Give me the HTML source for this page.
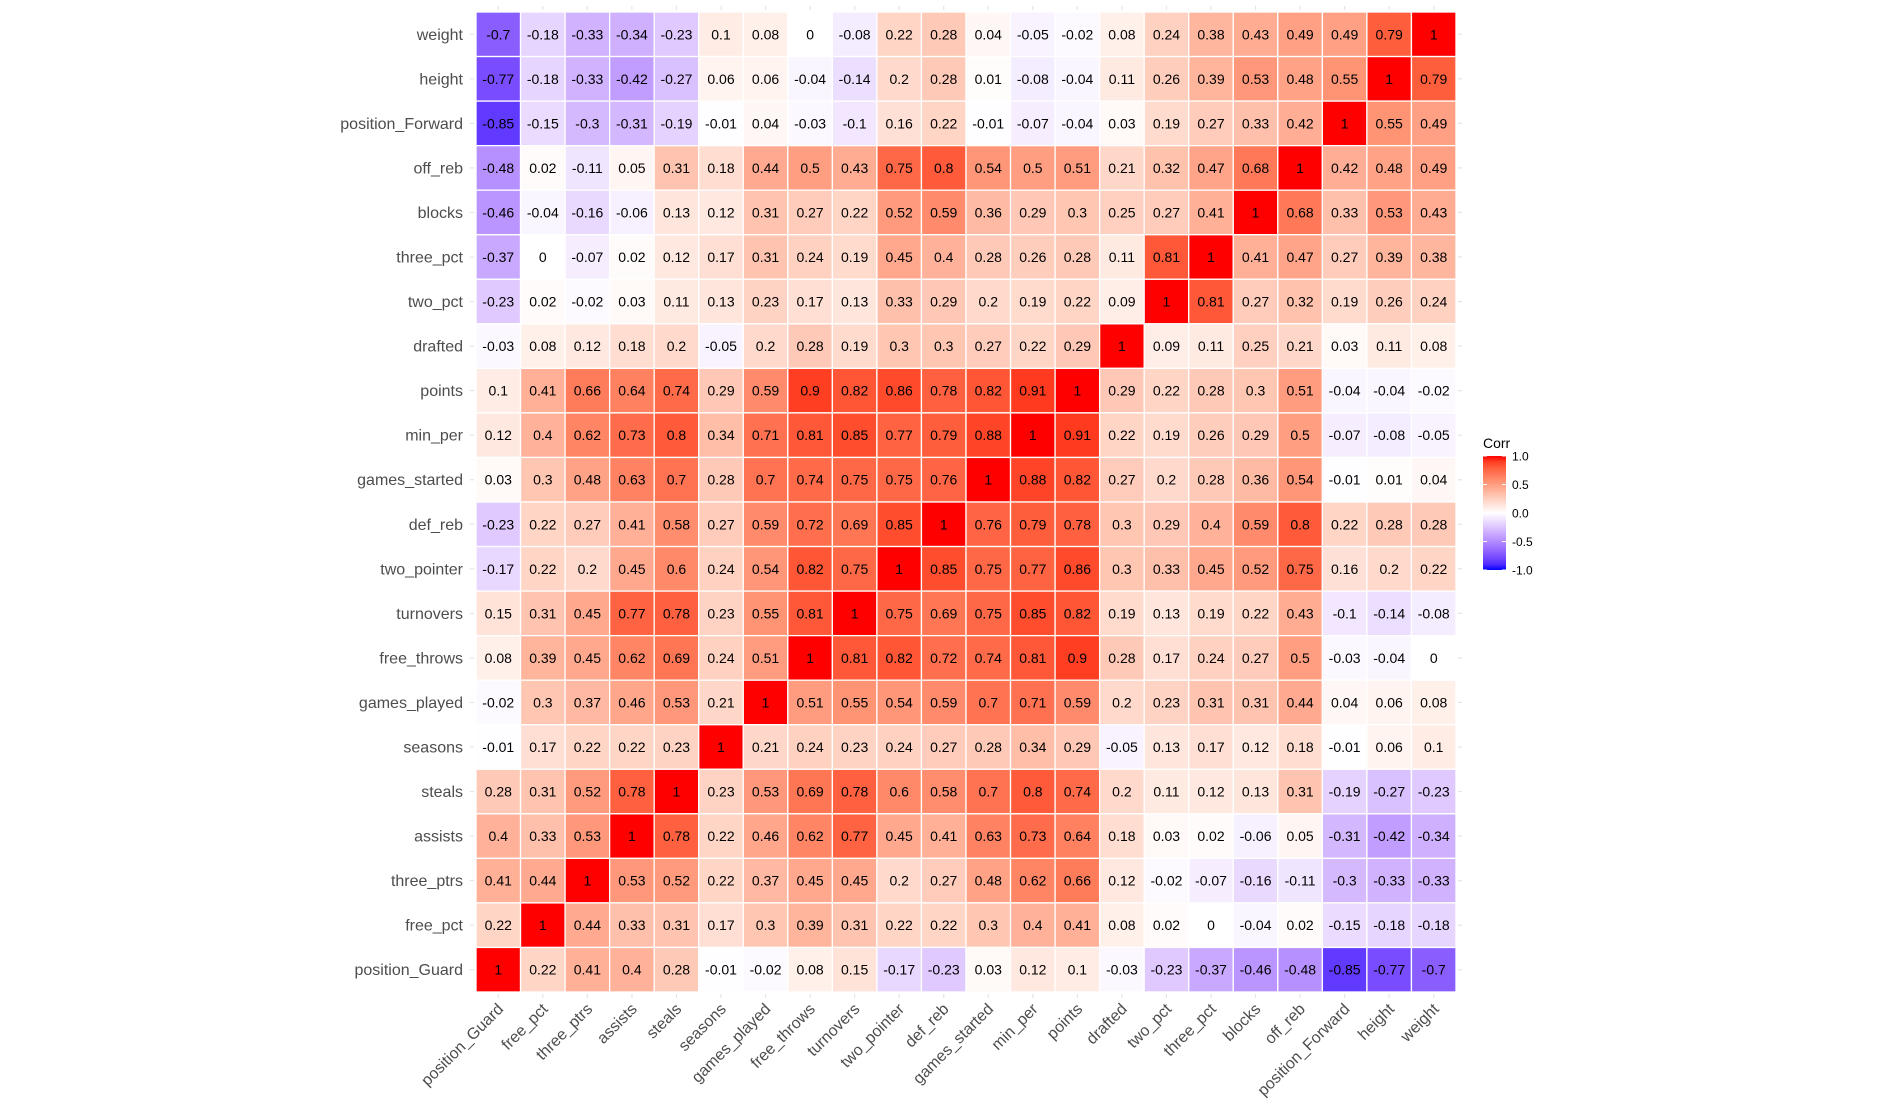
<!DOCTYPE html>
<html><head><meta charset="utf-8"><style>
html,body{margin:0;padding:0;background:#fff;}
svg{display:block;font-family:"Liberation Sans",Arial,sans-serif;}
</style></head><body>
<svg id="chart" width="1884" height="1108" viewBox="0 0 1884 1108"></svg>
<script>
const columns = ["position_Guard","free_pct","three_ptrs","assists","steals","seasons","games_played","free_throws","turnovers","two_pointer","def_reb","games_started","min_per","points","drafted","two_pct","three_pct","blocks","off_reb","position_Forward","height","weight"];
const rowsTopDown = ["weight","height","position_Forward","off_reb","blocks","three_pct","two_pct","drafted","points","min_per","games_started","def_reb","two_pointer","turnovers","free_throws","games_played","seasons","steals","assists","three_ptrs","free_pct","position_Guard"];
const values = [
[-0.7,-0.18,-0.33,-0.34,-0.23,0.1,0.08,0,-0.08,0.22,0.28,0.04,-0.05,-0.02,0.08,0.24,0.38,0.43,0.49,0.49,0.79,1],
[-0.77,-0.18,-0.33,-0.42,-0.27,0.06,0.06,-0.04,-0.14,0.2,0.28,0.01,-0.08,-0.04,0.11,0.26,0.39,0.53,0.48,0.55,1,0.79],
[-0.85,-0.15,-0.3,-0.31,-0.19,-0.01,0.04,-0.03,-0.1,0.16,0.22,-0.01,-0.07,-0.04,0.03,0.19,0.27,0.33,0.42,1,0.55,0.49],
[-0.48,0.02,-0.11,0.05,0.31,0.18,0.44,0.5,0.43,0.75,0.8,0.54,0.5,0.51,0.21,0.32,0.47,0.68,1,0.42,0.48,0.49],
[-0.46,-0.04,-0.16,-0.06,0.13,0.12,0.31,0.27,0.22,0.52,0.59,0.36,0.29,0.3,0.25,0.27,0.41,1,0.68,0.33,0.53,0.43],
[-0.37,0,-0.07,0.02,0.12,0.17,0.31,0.24,0.19,0.45,0.4,0.28,0.26,0.28,0.11,0.81,1,0.41,0.47,0.27,0.39,0.38],
[-0.23,0.02,-0.02,0.03,0.11,0.13,0.23,0.17,0.13,0.33,0.29,0.2,0.19,0.22,0.09,1,0.81,0.27,0.32,0.19,0.26,0.24],
[-0.03,0.08,0.12,0.18,0.2,-0.05,0.2,0.28,0.19,0.3,0.3,0.27,0.22,0.29,1,0.09,0.11,0.25,0.21,0.03,0.11,0.08],
[0.1,0.41,0.66,0.64,0.74,0.29,0.59,0.9,0.82,0.86,0.78,0.82,0.91,1,0.29,0.22,0.28,0.3,0.51,-0.04,-0.04,-0.02],
[0.12,0.4,0.62,0.73,0.8,0.34,0.71,0.81,0.85,0.77,0.79,0.88,1,0.91,0.22,0.19,0.26,0.29,0.5,-0.07,-0.08,-0.05],
[0.03,0.3,0.48,0.63,0.7,0.28,0.7,0.74,0.75,0.75,0.76,1,0.88,0.82,0.27,0.2,0.28,0.36,0.54,-0.01,0.01,0.04],
[-0.23,0.22,0.27,0.41,0.58,0.27,0.59,0.72,0.69,0.85,1,0.76,0.79,0.78,0.3,0.29,0.4,0.59,0.8,0.22,0.28,0.28],
[-0.17,0.22,0.2,0.45,0.6,0.24,0.54,0.82,0.75,1,0.85,0.75,0.77,0.86,0.3,0.33,0.45,0.52,0.75,0.16,0.2,0.22],
[0.15,0.31,0.45,0.77,0.78,0.23,0.55,0.81,1,0.75,0.69,0.75,0.85,0.82,0.19,0.13,0.19,0.22,0.43,-0.1,-0.14,-0.08],
[0.08,0.39,0.45,0.62,0.69,0.24,0.51,1,0.81,0.82,0.72,0.74,0.81,0.9,0.28,0.17,0.24,0.27,0.5,-0.03,-0.04,0],
[-0.02,0.3,0.37,0.46,0.53,0.21,1,0.51,0.55,0.54,0.59,0.7,0.71,0.59,0.2,0.23,0.31,0.31,0.44,0.04,0.06,0.08],
[-0.01,0.17,0.22,0.22,0.23,1,0.21,0.24,0.23,0.24,0.27,0.28,0.34,0.29,-0.05,0.13,0.17,0.12,0.18,-0.01,0.06,0.1],
[0.28,0.31,0.52,0.78,1,0.23,0.53,0.69,0.78,0.6,0.58,0.7,0.8,0.74,0.2,0.11,0.12,0.13,0.31,-0.19,-0.27,-0.23],
[0.4,0.33,0.53,1,0.78,0.22,0.46,0.62,0.77,0.45,0.41,0.63,0.73,0.64,0.18,0.03,0.02,-0.06,0.05,-0.31,-0.42,-0.34],
[0.41,0.44,1,0.53,0.52,0.22,0.37,0.45,0.45,0.2,0.27,0.48,0.62,0.66,0.12,-0.02,-0.07,-0.16,-0.11,-0.3,-0.33,-0.33],
[0.22,1,0.44,0.33,0.31,0.17,0.3,0.39,0.31,0.22,0.22,0.3,0.4,0.41,0.08,0.02,0,-0.04,0.02,-0.15,-0.18,-0.18],
[1,0.22,0.41,0.4,0.28,-0.01,-0.02,0.08,0.15,-0.17,-0.23,0.03,0.12,0.1,-0.03,-0.23,-0.37,-0.46,-0.48,-0.85,-0.77,-0.7]
];
const legendTicks = [1.0,0.5,0.0,-0.5,-1.0];

const NS="http://www.w3.org/2000/svg";
const svg=document.getElementById('chart');
const X0=476,Y0=12,W=980,H=980;
const cw=W/columns.length, ch=H/rowsTopDown.length;
function xScale(i){return X0+i*cw;}
function yScale(j){return Y0+j*ch;}
// Lab interpolation
function toLin(c){c/=255;return c<=0.04045?c/12.92:Math.pow((c+0.055)/1.055,2.4);}
function fromLin(c){c=c<=0.0031308?12.92*c:1.055*Math.pow(c,1/2.4)-0.055;return Math.max(0,Math.min(255,Math.round(c*255)));}
function rgb2lab(r,g,b){r=toLin(r);g=toLin(g);b=toLin(b);
 let x=(r*0.4124+g*0.3576+b*0.1805)/0.95047,y=(r*0.2126+g*0.7152+b*0.0722),z=(r*0.0193+g*0.1192+b*0.9505)/1.08883;
 const f=t=>t>0.008856?Math.cbrt(t):7.787*t+16/116;
 return [116*f(y)-16,500*(f(x)-f(y)),200*(f(y)-f(z))];}
function lab2rgb(L,a,bb){let fy=(L+16)/116,fx=fy+a/500,fz=fy-bb/200;
 const fi=t=>t*t*t>0.008856?t*t*t:(t-16/116)/7.787;
 let x=fi(fx)*0.95047,y=fi(fy),z=fi(fz)*1.08883;
 let r=x*3.2406+y*-1.5372+z*-0.4986,g=x*-0.9689+y*1.8758+z*0.0415,b=x*0.0557+y*-0.2040+z*1.0570;
 return `rgb(${fromLin(r)},${fromLin(g)},${fromLin(b)})`;}
const LW=rgb2lab(255,255,255),LR=rgb2lab(255,0,0),LB=rgb2lab(0,0,255);
function color(v){const t=Math.abs(v),e=v>=0?LR:LB;
 return lab2rgb(LW[0]+(e[0]-LW[0])*t,LW[1]+(e[1]-LW[1])*t,LW[2]+(e[2]-LW[2])*t);}
function el(tag,attrs,parent){const e=document.createElementNS(NS,tag);for(const k in attrs)e.setAttribute(k,attrs[k]);(parent||svg).appendChild(e);return e;}

// ticks
columns.forEach((c,i)=>{
 const cx=xScale(i)+cw/2;
 const t=el('line',{x1:cx,x2:cx,y1:Y0-6,y2:Y0-2,stroke:'#e5e5e5','stroke-width':1.2});
 
 
 const t2=el('line',{x1:cx,x2:cx,y1:Y0+H+2,y2:Y0+H+6,stroke:'#e5e5e5','stroke-width':1.2});
 
 
 const lab=el('text',{x:cx+6,y:Y0+H+18,'text-anchor':'end','font-size':16,fill:'#4d4d4d',transform:`rotate(-45 ${cx+6} ${Y0+H+18})`});
 lab.textContent=c;
 
 
});
rowsTopDown.forEach((r,j)=>{
 const cy=yScale(j)+ch/2;
 const t=el('line',{x1:X0-6,x2:X0-2,y1:cy,y2:cy,stroke:'#e5e5e5','stroke-width':1.2});
 
 
 const t2=el('line',{x1:X0+W+2,x2:X0+W+6,y1:cy,y2:cy,stroke:'#e5e5e5','stroke-width':1.2});
 
 
 const lab=el('text',{x:X0-13,y:cy+5.5,'text-anchor':'end','font-size':16,fill:'#4d4d4d'});
 lab.textContent=r;
 
 
});
// cells
values.forEach((row,j)=>row.forEach((v,i)=>{
 const rc=el('rect',{x:xScale(i),y:yScale(j),width:cw,height:ch,fill:color(v),stroke:'#fff','stroke-width':1.3});
 
 
 const tx=el('text',{x:xScale(i)+cw/2,y:yScale(j)+ch/2+5,'text-anchor':'middle','font-size':14,fill:'#000'});
 tx.textContent=String(v);
 
 
}));
// legend
const g=el('g',{});


const defs=el('defs',{});
const lg=el('linearGradient',{id:'lg',x1:0,y1:0,x2:0,y2:1},defs);
for(let k=0;k<=20;k++){const v=1-k/10;el('stop',{offset:(k/20*100)+'%','stop-color':color(v)},lg);}
const LX=1483,LY=456,LWd=23,LH=114;
const ttl=el('text',{x:LX,y:LY-8,'font-size':14,fill:'#000'},g);
ttl.textContent='Corr';


const bar=el('rect',{x:LX,y:LY,width:LWd,height:LH,fill:'url(#lg)'},g);


legendTicks.forEach(v=>{
 const y=LY+(1-v)/2*LH;
 el('line',{x1:LX,x2:LX+4,y1:y,y2:y,stroke:'#fff','stroke-width':1},g);
 el('line',{x1:LX+LWd-4,x2:LX+LWd,y1:y,y2:y,stroke:'#fff','stroke-width':1},g);
 const t=el('text',{x:LX+LWd+6,y:y+4.5,'font-size':12,fill:'#000'},g);
 t.textContent=v.toFixed(1);
 
 
});
</script>
</body></html>
